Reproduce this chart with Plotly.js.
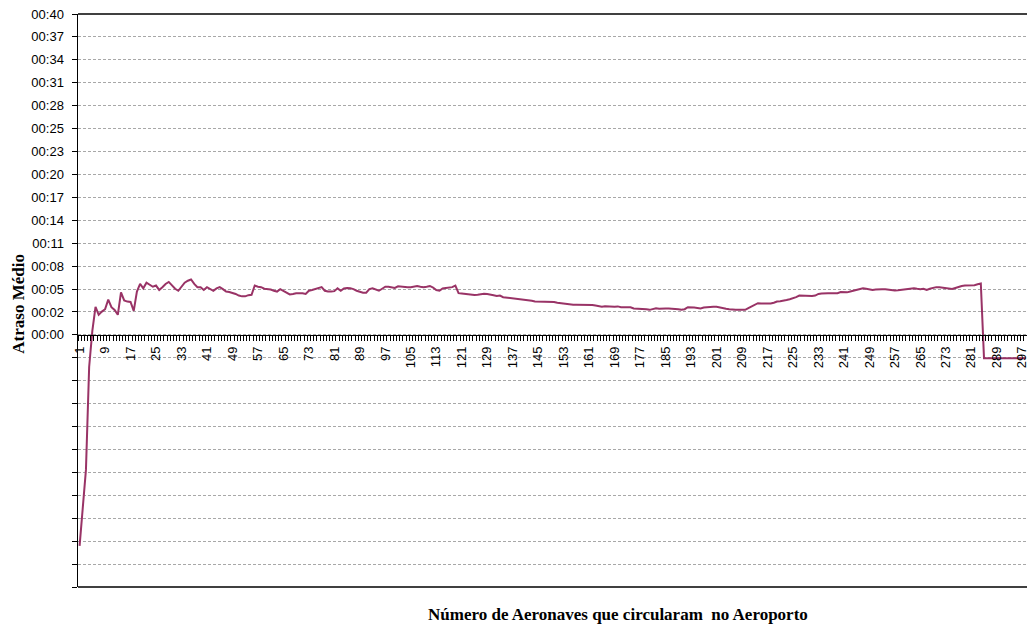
<!DOCTYPE html>
<html>
<head>
<meta charset="utf-8">
<script src="https://cdn.plot.ly/plotly-3.0.1.min.js"></script>
<style>
html,body{margin:0;padding:0;background:#fff;}
#chart{width:1027px;height:628px;}
</style>
</head>
<body>
<div id="chart"></div>
<script>
// Average delay (minutes) per number of aircraft that circulated at the airport
const atrasoMedio = [
  -26.3, -21.5, -16.8, -4.0, 0.5, 3.5, 2.5, 2.9, 3.2, 4.4,
  3.45, 3.1, 2.5, 5.3, 4.3, 4.15, 4.1, 3.0, 5.4, 6.35,
  5.8, 6.5, 6.2, 6.0, 6.15, 5.6, 5.95, 6.35, 6.6, 6.15,
  5.75, 5.5, 5.95, 6.5, 6.75, 6.9, 6.35, 5.95, 5.95, 5.6,
  5.95, 5.75, 5.5, 5.8, 5.95, 5.7, 5.4, 5.35, 5.25, 5.1,
  4.9, 4.8, 4.8, 4.95, 5.0, 6.15, 6.0, 5.95, 5.75, 5.7,
  5.65, 5.5, 5.4, 5.7, 5.45, 5.2, 5.05, 5.1, 5.2, 5.2,
  5.2, 5.1, 5.5, 5.6, 5.7, 5.8, 5.95, 5.5, 5.4, 5.4,
  5.45, 5.8, 5.5, 5.8, 5.85, 5.8, 5.7, 5.5, 5.4, 5.25,
  5.25, 5.7, 5.8, 5.6, 5.5, 5.75, 6.0, 6.0, 5.9, 5.85,
  6.05, 6.0, 5.95, 5.95, 5.95, 6.0, 6.1, 6.0, 5.95, 6.0,
  6.1, 5.9, 5.6, 5.5, 5.8, 5.85, 5.9, 5.95, 6.15, 5.2,
  5.15, 5.1, 5.0, 5.0, 4.98, 5.0, 5.1, 5.12, 5.1, 5.05,
  4.95, 4.85, 4.9, 4.7, 4.65, 4.65, 4.6, 4.55, 4.5, 4.45,
  4.35, 4.3, 4.25, 4.15, 4.15, 4.1, 4.12, 4.12, 4.12, 4.1,
  4.0, 3.95, 3.85, 3.78, 3.75, 3.75, 3.75, 3.75, 3.75, 3.75,
  3.75, 3.72, 3.65, 3.55, 3.5, 3.58, 3.55, 3.5, 3.52, 3.55,
  3.45, 3.45, 3.45, 3.45, 3.3, 3.28, 3.28, 3.25, 3.2, 3.12,
  3.25, 3.32, 3.25, 3.3, 3.3, 3.3, 3.28, 3.28, 3.2, 3.12,
  3.2, 3.45, 3.45, 3.4, 3.35, 3.3, 3.4, 3.45, 3.5, 3.52,
  3.5, 3.4, 3.35, 3.25, 3.2, 3.12, 3.12, 3.12, 3.12, 3.12,
  3.35, 3.55, 3.75, 3.95, 3.9, 3.9, 3.95, 3.9, 4.0, 4.15,
  4.2, 4.25, 4.35, 4.45, 4.55, 4.7, 4.9, 4.88, 4.85, 4.85,
  4.85, 4.9, 5.1, 5.15, 5.2, 5.2, 5.2, 5.2, 5.2, 5.35,
  5.35, 5.3, 5.4, 5.5, 5.6, 5.7, 5.8, 5.75, 5.65, 5.6,
  5.65, 5.7, 5.7, 5.68, 5.62, 5.55, 5.52, 5.55, 5.6, 5.62,
  5.7, 5.75, 5.82, 5.75, 5.7, 5.75, 5.6, 5.75, 5.9, 5.95,
  5.95, 5.9, 5.85, 5.8, 5.72, 5.85, 6.0, 6.1, 6.15, 6.15,
  6.15, 6.2, 6.3, 6.4, -2.9, -2.9, -2.9, -2.9, -2.9, -2.9,
  -2.9, -2.9, -2.9, -2.9, -2.9, -2.9, -2.9, -2.9
];
const numeroAeronaves = atrasoMedio.map((v, i) => i + 1);

const xTickVals = [1, 9, 17, 25, 33, 41, 49, 57, 65, 73, 81, 89, 97, 105, 113, 121, 129, 137, 145, 153, 161, 169, 177, 185, 193, 201, 209, 217, 225, 233, 241, 249, 257, 265, 273, 281, 289, 297];
const xTickText = xTickVals.map(String);

// y axis: Excel time axis, major unit = 40/14 min, 11 units below zero
const yTickVals = [-31.4286, -28.5714, -25.7143, -22.8571, -20.0, -17.1429, -14.2857, -11.4286, -8.5714, -5.7143, -2.8571,
  0, 2.8571, 5.7143, 8.5714, 11.4286, 14.2857, 17.1429, 20.0, 22.8571, 25.7143, 28.5714, 31.4286, 34.2857, 37.1429, 40.0];
const yTickText = ['', '', '', '', '', '', '', '', '', '', '',
  '00:00', '00:02', '00:05', '00:08', '00:11', '00:14', '00:17', '00:20', '00:23', '00:25', '00:28', '00:31', '00:34', '00:37', '00:40'];

const yMin = -31.4286, yMax = 40;
const zeroPos = (0 - yMin) / (yMax - yMin);

const trace = {
  x: numeroAeronaves,
  y: atrasoMedio,
  type: 'scatter',
  mode: 'lines',
  line: {color: '#993366', width: 2},
  hoverinfo: 'skip'
};

const layout = {
  width: 1027,
  height: 628,
  margin: {l: 78, r: 0, t: 14, b: 41},
  paper_bgcolor: '#ffffff',
  plot_bgcolor: '#ffffff',
  showlegend: false,
  xaxis: {
    type: 'linear',
    range: [0.5, 298.5],
    anchor: 'free',
    position: zeroPos,
    tickmode: 'array',
    tickvals: xTickVals,
    ticktext: xTickText,
    tickangle: -90,
    ticks: 'outside',
    ticklen: 5,
    tickcolor: 'rgba(0,0,0,0)',
    ticklabeloverflow: 'allow',
    minor: {tick0: 0.5, dtick: 1, ticks: 'outside', ticklen: 5, tickcolor: '#000000', tickwidth: 1, showgrid: false},
    showgrid: false,
    zeroline: false,
    showline: true,
    linecolor: '#000000',
    linewidth: 1.5,
    tickfont: {family: 'Liberation Sans, Arial, sans-serif', size: 13, color: '#000000'},
    fixedrange: true
  },
  yaxis: {
    range: [yMin, yMax],
    tickmode: 'array',
    tickvals: yTickVals,
    ticktext: yTickText,
    ticks: 'outside',
    ticklen: 5,
    tickcolor: '#000000',
    ticklabelstandoff: 5,
    showgrid: true,
    gridcolor: '#a8a8a8',
    gridwidth: 1,
    griddash: '3px,2px',
    zeroline: false,
    showline: true,
    linecolor: '#000000',
    linewidth: 1.5,
    tickfont: {family: 'Liberation Sans, Arial, sans-serif', size: 13, color: '#000000'},
    fixedrange: true
  },
  shapes: [
    {type: 'line', xref: 'paper', yref: 'paper', x0: 0, x1: 1, y0: 1, y1: 1, line: {color: '#000000', width: 1.5}},
    {type: 'line', xref: 'paper', yref: 'paper', x0: 0, x1: 1, y0: 0, y1: 0, line: {color: '#000000', width: 1.5}}
  ],
  annotations: [
    {text: '<b>Atraso Médio</b>', xref: 'paper', yref: 'paper', x: -0.0629, y: 0.495,
     xanchor: 'center', yanchor: 'middle', textangle: -90, showarrow: false,
     font: {family: 'Liberation Serif, Times New Roman, serif', size: 17, color: '#000000'}},
    {text: '<b>Número de Aeronaves que circularam&nbsp; no Aeroporto</b>', xref: 'paper', yref: 'paper', x: 0.569, y: -0.0488,
     xanchor: 'center', yanchor: 'middle', showarrow: false,
     font: {family: 'Liberation Serif, Times New Roman, serif', size: 17, color: '#000000'}}
  ]
};

Plotly.newPlot('chart', [trace], layout, {staticPlot: true, displayModeBar: false});
</script>
</body>
</html>
